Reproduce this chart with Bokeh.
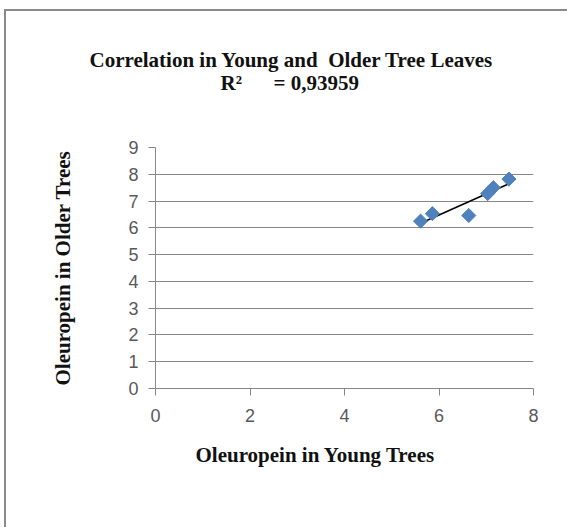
import numpy as np
from bokeh.plotting import figure
from bokeh.models import Range1d, FixedTicker, Title
from bokeh.embed import file_html
from bokeh.resources import INLINE

# data
young = [5.61, 5.86, 6.63, 7.03, 7.15, 7.48]
older = [6.25, 6.53, 6.46, 7.28, 7.50, 7.82]
x_ticks = [0, 2, 4, 6, 8]
y_ticks = [0, 1, 2, 3, 4, 5, 6, 7, 8, 9]
title_line1 = "Correlation in Young and\u00a0 Older Tree Leaves"
title_line2 = "R\u00b2" + "\u00a0" * 6 + "= 0,93959"
x_label = "Oleuropein in Young Trees"
y_label = "Oleuropein in Older Trees"

GREY = "#868686"
SERIF = "Liberation Serif"
FS = "21px"

p = figure(output_backend="svg", toolbar_location=None,
           frame_width=378, frame_height=241,
           min_border_left=149, min_border_right=34,
           min_border_top=136, min_border_bottom=139,
           x_range=Range1d(0, 8), y_range=Range1d(0, 9),
           background_fill_color="white", border_fill_color="white")
p.styles = {"margin-left": "4px", "margin-top": "9px",
            "border-left": "2px solid #8a8a8a", "border-top": "2px solid #8a8a8a"}
p.outline_line_color = None

p.xgrid.grid_line_color = None
p.ygrid.grid_line_color = GREY
p.ygrid.grid_line_width = 1
p.ygrid.ticker = FixedTicker(ticks=y_ticks)

for ax, ticks in ((p.xaxis[0], x_ticks), (p.yaxis[0], y_ticks)):
    ax.ticker = FixedTicker(ticks=ticks)
    ax.axis_line_color = GREY
    ax.major_tick_line_color = GREY
    ax.major_tick_in = 0
    ax.major_tick_out = 7
    ax.minor_tick_line_color = None
    ax.major_label_text_font = "Liberation Sans"
    ax.major_label_text_font_size = "18px"
    ax.major_label_text_color = "#595959"
    ax.major_label_standoff = 10
p.xaxis[0].major_label_standoff = 13

yax = p.yaxis[0]
yax.axis_label = y_label
yax.axis_label_text_font = SERIF
yax.axis_label_text_font_style = "bold"
yax.axis_label_text_font_size = FS
yax.axis_label_text_color = "#111111"
yax.axis_label_standoff = 50

# trend line from least squares fit of the series
slope, intercept = np.polyfit(young, older, 1)
xs = np.array([min(young), max(young)])
p.line(xs, slope * xs + intercept, line_color="black", line_width=1.5)

p.scatter(young, older, marker="square", angle=np.pi / 4, size=10,
          fill_color="#4F81BD", line_color="#4F81BD")

def mk_title(text, offset, standoff, size=FS, lh=1.1):
    return Title(text=text, align="left", offset=offset, standoff=standoff,
                 text_font=SERIF, text_font_style="bold", text_line_height=lh,
                 text_font_size=size, text_color="#111111")

p.title = mk_title(title_line1, -66, -6)
p.add_layout(mk_title("\u00a0", 0, 50, size="1px"), "above")
p.add_layout(mk_title(title_line2, 65, 0, lh=0.9), "above")
p.add_layout(mk_title(x_label, 40, 33), "below")

open("out.html", "w").write(file_html(p, INLINE))
